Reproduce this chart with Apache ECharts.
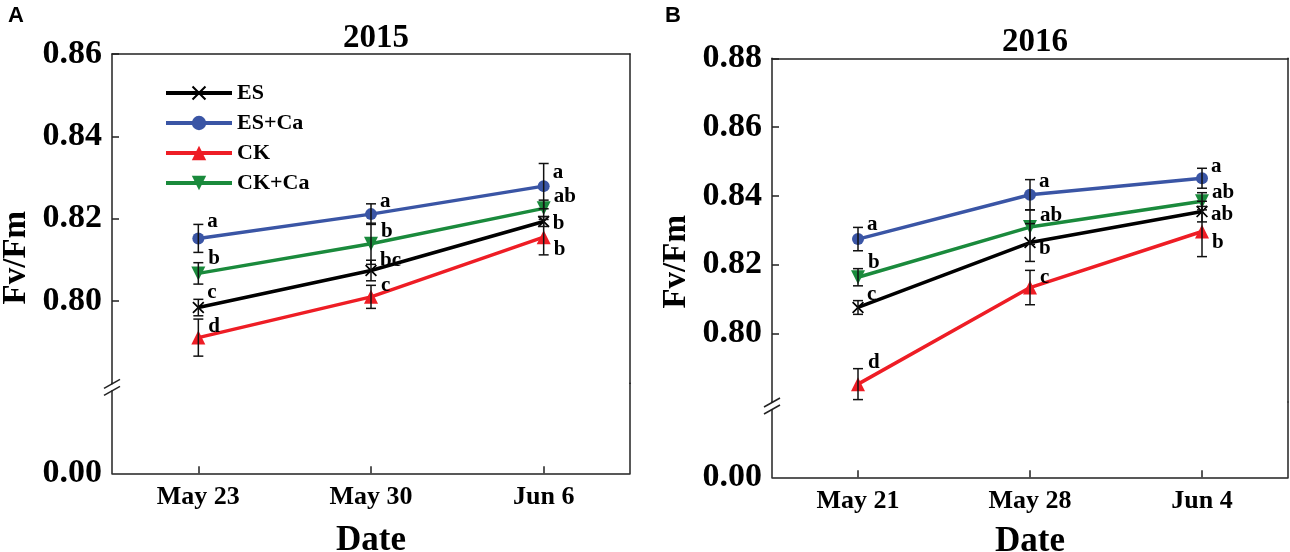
<!DOCTYPE html>
<html>
<head>
<meta charset="utf-8">
<style>
html, body { margin: 0; padding: 0; background: #fff; }
#chart { width: 1290px; height: 552px; }
</style>
<script src="https://cdn.jsdelivr.net/npm/echarts@6/dist/echarts.min.js"></script>
</head>
<body>
<div id="chart"></div>
<script>
// ---- data ----
var seriesNames = ['ES', 'ES+Ca', 'CK', 'CK+Ca'];

var datesA = ['May 23', 'May 30', 'Jun 6'];
var esA    = [0.7984, 0.8074, 0.8193];
var esCaA  = [0.8152, 0.8211, 0.8279];
var ckA    = [0.7911, 0.8010, 0.8155];
var ckCaA  = [0.8067, 0.8139, 0.8225];
var esErrA   = [0.0020, 0.0025, 0.0012];
var esCaErrA = [0.0034, 0.0025, 0.0055];
var ckErrA   = [0.0045, 0.0028, 0.0043];
var ckCaErrA = [0.0026, 0.0050, 0.0020];
var esLetA   = ['c', 'bc', 'b'];
var esCaLetA = ['a', 'a', 'a'];
var ckLetA   = ['d', 'c', 'b'];
var ckCaLetA = ['b', 'b', 'ab'];

var datesB = ['May 21', 'May 28', 'Jun 4'];
var esB    = [0.8075, 0.8264, 0.8354];
var esCaB  = [0.8274, 0.8403, 0.8451];
var ckB    = [0.7852, 0.8133, 0.8296];
var ckCaB  = [0.8163, 0.8309, 0.8384];
var esErrB   = [0.0020, 0.0055, 0.0030];
var esCaErrB = [0.0034, 0.0044, 0.0029];
var ckErrB   = [0.0045, 0.0050, 0.0073];
var ckCaErrB = [0.0025, 0.0050, 0.0025];
var esLetB   = ['c', 'b', 'ab'];
var esCaLetB = ['a', 'a', 'a'];
var ckLetB   = ['d', 'c', 'b'];
var ckCaLetB = ['b', 'ab', 'ab'];

var ticksA = [0.80, 0.82, 0.84, 0.86];
var ticksB = [0.80, 0.82, 0.84, 0.86, 0.88];

// ---- layout / style ----
var colors = ['#000000', '#3a55a5', '#ee1d25', '#1a8a3c'];
var serif = '"Liberation Serif", "Times New Roman", serif';
var axisCol = '#222';
// vertical nudge of the significance letters (px), per series per date
var letDyA = [[-15, -10, 2], [-17, -13, -14], [-11, -11, 12], [-15, -12, -12]];
var letDyB = [[-13, 6, 3], [-15, -13, -12], [-22, -10, 11], [-15, -11, -9]];

var panels = [
    { left: 112, top: 54, width: 518, topH: 329.3, botH: 90, max: 0.86, ticks: ticksA, dates: datesA,
      vals: [esA, esCaA, ckA, ckCaA], errs: [esErrA, esCaErrA, ckErrA, ckCaErrA],
      lets: [esLetA, esCaLetA, ckLetA, ckCaLetA], dy: letDyA, title: '2015', titleTop: 17, tag: 'A', tagX: 8, nameGap: 50 },
    { left: 772, top: 58.3, width: 516, topH: 343.7, botH: 75.3, max: 0.88, ticks: ticksB, dates: datesB,
      vals: [esB, esCaB, ckB, ckCaB], errs: [esErrB, esCaErrB, ckErrB, ckCaErrB],
      lets: [esLetB, esCaLetB, ckLetB, ckCaLetB], dy: letDyB, title: '2016', titleTop: 21, tag: 'B', tagX: 665, nameGap: 47 }
];

var symbols = [
    'path://M1,0 L5,4 L9,0 L10,1 L6,5 L10,9 L9,10 L5,6 L1,10 L0,9 L4,5 L0,1 Z',
    'circle', 'triangle', 'triangle'
];
var symbolSizes = [12, 12, 14, 14];
var symbolRot = [0, 0, 0, 180];

function renderErr(params, api) {
    var x = api.value(0), v = api.value(1), e = api.value(2);
    var hi = api.coord([x, v + e]);
    var lo = api.coord([x, v - e]);
    var w = 5;
    var st = { stroke: '#111', lineWidth: 1.5 };
    return {
        type: 'group',
        children: [
            { type: 'line', shape: { x1: hi[0], y1: hi[1], x2: lo[0], y2: lo[1] }, style: st },
            { type: 'line', shape: { x1: hi[0] - w, y1: hi[1], x2: hi[0] + w, y2: hi[1] }, style: st },
            { type: 'line', shape: { x1: lo[0] - w, y1: lo[1], x2: lo[0] + w, y2: lo[1] }, style: st }
        ]
    };
}

var grid = [], xAxis = [], yAxis = [], series = [], title = [], graphic = [];

panels.forEach(function (p, pi) {
    var gTop = grid.length, gBot = gTop + 1;
    grid.push({ left: p.left, top: p.top, width: p.width, height: p.topH, outerBoundsMode: 'none' });
    grid.push({ left: p.left, top: p.top + p.topH, width: p.width, height: p.botH, outerBoundsMode: 'none' });

    var line = { show: true, lineStyle: { color: axisCol, width: 1.5 } };
    xAxis.push({
        type: 'category', gridIndex: gTop, position: 'top', data: p.dates, boundaryGap: true,
        axisLine: line, axisTick: { show: false }, axisLabel: { show: false }, splitLine: { show: false }
    });
    xAxis.push({
        type: 'category', gridIndex: gBot, position: 'bottom', data: p.dates, boundaryGap: true,
        axisLine: line,
        axisTick: { show: true, inside: true, length: 7, alignWithLabel: true, lineStyle: { color: axisCol, width: 1.5 } },
        axisLabel: { margin: 11, color: '#000', fontFamily: serif, fontWeight: 'bold', fontSize: 26 },
        name: 'Date', nameLocation: 'middle', nameGap: p.nameGap,
        nameTextStyle: { color: '#000', fontFamily: serif, fontWeight: 'bold', fontSize: 35 }
    });

    var yLab = { color: '#000', fontFamily: serif, fontWeight: 'bold', fontSize: 34, margin: 10,
                 formatter: function (v) { return v.toFixed(2); } };
    var yTopIdx = yAxis.length;
    yAxis.push({
        type: 'value', gridIndex: gTop, position: 'left', min: 0.78, max: p.max, interval: 0.02,
        axisLine: line, splitLine: { show: false },
        axisTick: { show: true, inside: true, length: 7, customValues: p.ticks, lineStyle: { color: axisCol, width: 1.5 } },
        axisLabel: Object.assign({ customValues: p.ticks }, yLab)
    });
    yAxis.push({
        type: 'value', gridIndex: gTop, position: 'right', min: 0.78, max: p.max,
        axisLine: line, axisTick: { show: false }, axisLabel: { show: false }, splitLine: { show: false }
    });
    yAxis.push({
        type: 'value', gridIndex: gBot, position: 'left', min: 0, max: 1,
        axisLine: line, splitLine: { show: false },
        axisTick: { show: false },
        axisLabel: Object.assign({ customValues: [0] }, yLab)
    });
    yAxis.push({
        type: 'value', gridIndex: gBot, position: 'right', min: 0, max: 1,
        axisLine: line, axisTick: { show: false }, axisLabel: { show: false }, splitLine: { show: false }
    });

    var xTopIdx = pi * 2;

    p.vals.forEach(function (vals, si) {
        series.push({
            name: seriesNames[si], type: 'line', xAxisIndex: xTopIdx, yAxisIndex: yTopIdx,
            data: vals.map(function (v, i) {
                return { value: v, label: { offset: [0, p.dy[si][i]] } };
            }),
            symbol: symbols[si], symbolSize: symbolSizes[si], symbolRotate: symbolRot[si],
            lineStyle: { color: colors[si], width: 3.5 },
            itemStyle: { color: colors[si] },
            label: {
                show: true, position: 'right', distance: 3, color: '#000',
                fontFamily: serif, fontWeight: 'bold', fontSize: 21,
                formatter: (function (lets) {
                    return function (prm) { return lets[prm.dataIndex]; };
                })(p.lets[si])
            },
            emphasis: { disabled: true }, animation: false, z: 3
        });
        series.push({
            type: 'custom', xAxisIndex: xTopIdx, yAxisIndex: yTopIdx,
            data: vals.map(function (v, i) { return [i, v, p.errs[si][i]]; }),
            renderItem: renderErr, silent: true, animation: false, z: 4
        });
    });

    title.push({
        text: p.title, left: p.left + p.width / 2, top: p.titleTop, textAlign: 'center',
        textStyle: { fontFamily: serif, fontWeight: 'bold', fontSize: 33, color: '#000' }
    });

    // panel tag
    graphic.push({
        type: 'text', x: p.tagX, y: 5,
        style: { text: p.tag, font: 'bold 22px "Liberation Sans", Arial, sans-serif', fill: '#000' }
    });
    // y axis name
    graphic.push({
        type: 'text', x: p.left - 96, y: p.top + (p.topH + p.botH) / 2 - 6, rotation: Math.PI / 2,
        style: { text: 'Fv/Fm', font: 'bold 33px ' + serif, fill: '#000', align: 'center', verticalAlign: 'middle' }
    });
    // axis break mark
    var bx = p.left, by = p.top + p.topH + 4;
    graphic.push({ type: 'rect', shape: { x: bx - 3, y: by - 3, width: 6, height: 6 }, style: { fill: '#fff' }, z: 100 });
    graphic.push({ type: 'line', shape: { x1: bx - 8, y1: by + 1, x2: bx + 8, y2: by - 8 },
                   style: { stroke: axisCol, lineWidth: 1.5 }, z: 101 });
    graphic.push({ type: 'line', shape: { x1: bx - 8, y1: by + 8, x2: bx + 8, y2: by - 1 },
                   style: { stroke: axisCol, lineWidth: 1.5 }, z: 101 });
});

var chart = echarts.init(document.getElementById('chart'));
chart.setOption({
    animation: false,
    title: title,
    grid: grid,
    xAxis: xAxis,
    yAxis: yAxis,
    legend: {
        data: seriesNames, orient: 'vertical', left: 164, top: 82, padding: 0,
        itemWidth: 66, itemHeight: 18, itemGap: 8, selectedMode: false,
        lineStyle: { width: 4 },
        textStyle: { fontFamily: serif, fontWeight: 'bold', fontSize: 22, color: '#000' }
    },
    series: series,
    graphic: graphic
});
</script>
</body>
</html>
